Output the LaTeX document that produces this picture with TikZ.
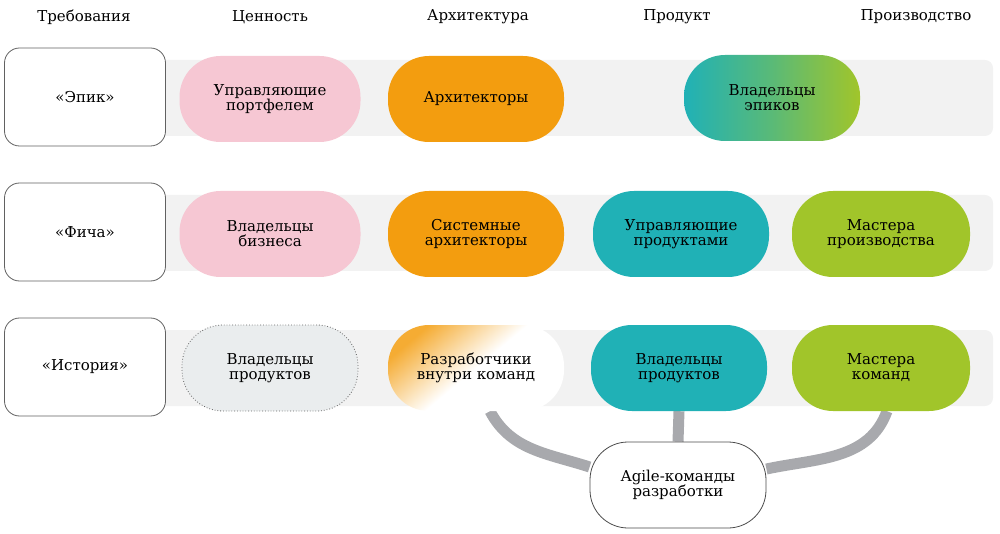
\documentclass[tikz,border=0pt]{standalone}
\usepackage{fontspec}
\setmainfont{DejaVu Serif}
\usetikzlibrary{backgrounds}
\definecolor{bandgray}{HTML}{F2F2F2}
\definecolor{linkgray}{HTML}{A8A9AD}
\definecolor{pink}{HTML}{F6C7D3}
\definecolor{amber}{HTML}{F39D0F}
\definecolor{teal}{HTML}{20B1B6}
\definecolor{lime}{HTML}{A1C52A}
\definecolor{mist}{HTML}{EAEDEE}

\begin{document}
\begin{tikzpicture}[x=1pt,y=-1pt,
  every node/.style={font=\fontsize{15}{15}\selectfont, align=center, text=black},
  req/.style={draw=black!62, line width=0.8pt, fill=white, rounded corners=15pt, minimum width=161pt, minimum height=98pt},
  pill/.style={rounded corners=41pt, minimum width=176pt, minimum height=86pt, inner sep=0pt},
  link/.style={draw=linkgray, line width=11pt}]
\useasboundingbox (0,0) rectangle (1000,534);

% column heads
\node (h1) at (84,17) {Требования};
\node (h2) at (270,17) {Ценность};
\node (h3) at (478,17) {Архитектура};
\node (h4) at (677,17) {Продукт};
\node (h5) at (916,17) {Производство};

% rows
\node [req] (epic) at (85,97) {«Эпик»};
\node [pill,fill=pink,minimum width=181pt] (pm) at (270,99) {Управляющие\\портфелем};
\node [pill,fill=amber] (arch) at (476,99) {Архитекторы};
\node [pill,left color=teal,right color=lime,middle color=teal!55!lime] (eo) at (772,98) {Владельцы\\эпиков};

\node [req] (feat) at (85,232) {«Фича»};
\node [pill,fill=pink,minimum width=181pt] (bo) at (270,234) {Владельцы\\бизнеса};
\node [pill,fill=amber] (sa) at (476,234) {Системные\\архитекторы};
\node [pill,fill=teal] (prm) at (681,234) {Управляющие\\продуктами};
\node [pill,fill=lime,minimum width=178pt] (rte) at (881,234) {Мастера\\производства};

\node [req] (story) at (85,367) {«История»};
\node [pill,fill=mist,draw=black!60,line width=0.8pt,dotted] (po1) at (270,368) {Владельцы\\продуктов};
\node [pill,top color=amber!85,bottom color=white,middle color=white,shading angle=40] (dev) at (476,368) {Разработчики\\внутри команд};
\node [pill,fill=teal] (po) at (679,368) {Владельцы\\продуктов};
\node [pill,fill=lime,minimum width=178pt] (sm) at (881,368) {Мастера\\команд};

\node [draw=black!70, line width=0.8pt, fill=white, rounded corners=38pt, minimum width=176pt, minimum height=86pt] (team) at (678,485) {Agile-команды\\разработки};

\begin{scope}[on background layer]
\fill [bandgray, rounded corners=8pt] (150,60) rectangle (993,136);
\fill [bandgray, rounded corners=8pt] (150,195) rectangle (993,271);
\fill [bandgray, rounded corners=8pt] (150,330) rectangle (993,406);
\draw [link] ([xshift=14pt]dev.south) to[out=-62,in=162] ([yshift=18pt]team.west);
\draw [link] (po.south) -- (team.north);
\draw [link] ([xshift=6pt]sm.south) to[out=-110,in=12] ([yshift=16pt]team.east);
\end{scope}
\end{tikzpicture}
\end{document}
